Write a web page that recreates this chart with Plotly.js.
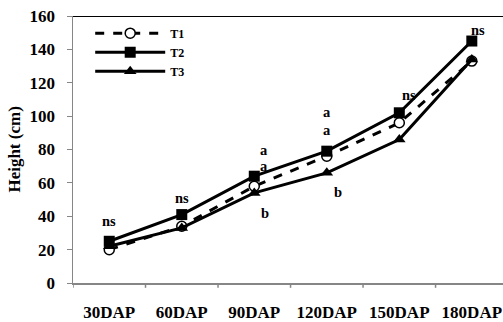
<!DOCTYPE html>
<html><head><meta charset="utf-8">
<script src="https://cdn.plot.ly/plotly-3.0.1.min.js"></script>
<style>html,body{margin:0;padding:0;background:#fff;overflow:hidden}</style>
</head><body><div id="chart" style="width:503px;height:322px"></div>
<script>
const categories = ["30DAP","60DAP","90DAP","120DAP","150DAP","180DAP"];
const t1 = [20, 34, 58, 76, 96, 133];
const t2 = [25, 41, 64, 79, 102, 145];
const t3 = [22, 33, 54, 66, 86, 134];
const letterText = ["ns","ns","a","a","b","a","a","b","ns","ns"];
const letterCat  = [0, 1, 2, 2, 2, 3, 3, 3, 4, 5];
const letterY    = [37, 51, 79.5, 70, 42, 102.5, 91.5, 54.5, 112.5, 151.5];
const letterDx   = [0, 0, 0.14, 0.14, 0.15, 0, 0, 0.15, 0.13, 0.08];

const fontFam = '"Liberation Serif", "Times New Roman", serif';
const idx = categories.map((c,i)=>i);
const traces = [
  {x: idx, y: t1, name: "<b>T1</b>", mode: "lines+markers",
   line: {color: "#000", width: 3, dash: "dash"},
   marker: {symbol: "circle", size: 10, color: "#fff", line: {color: "#000", width: 1.5}}},
  {x: idx, y: t2, name: "<b>T2</b>", mode: "lines+markers",
   line: {color: "#000", width: 3},
   marker: {symbol: "square", size: 11, color: "#000"}},
  {x: idx, y: t3, name: "<b>T3</b>", mode: "lines+markers",
   line: {color: "#000", width: 3},
   marker: {symbol: "triangle-up", size: 11, color: "#000"}}
];
const annotations = letterText.map((t,i)=>({
  x: letterCat[i] + letterDx[i], y: letterY[i], xref: "x", yref: "y",
  text: "<b>"+t+"</b>", showarrow: false,
  font: {family: fontFam, size: 14.5, color: "#000"}
}));
annotations.push({
  xref: "paper", yref: "paper", x: -0.137, y: 0.5, xanchor: "center", yanchor: "middle",
  text: "<b>Height (cm)</b>", textangle: -90, showarrow: false,
  font: {family: fontFam, size: 17, color: "#000"}
});
const layout = {
  width: 503, height: 322,
  margin: {l: 73, r: 0, t: 16, b: 39},
  paper_bgcolor: "#fff", plot_bgcolor: "#fff",
  showlegend: true,
  legend: {x: 0.04, y: 0.99, xanchor: "left", yanchor: "top",
           bgcolor: "rgba(0,0,0,0)", itemwidth: 70,
           font: {family: fontFam, size: 12, color: "#000"}, tracegroupgap: 0},
  xaxis: {
    tickmode: "array", tickvals: idx, ticktext: categories.map(c=>"<b>"+c+"</b>"),
    range: [-0.5, 5.43], showgrid: false, zeroline: false,
    showline: true, linecolor: "#868686", linewidth: 1.5,
    ticks: "", tickfont: {family: fontFam, size: 17, color: "#000"},
    ticklabelstandoff: 13, ticklabeloverflow: "allow"
  },
  yaxis: {
    range: [0, 160], tickvals: [0,20,40,60,80,100,120,140,160],
    ticktext: [0,20,40,60,80,100,120,140,160].map(v=>"<b>"+v+"</b>"),
    showgrid: false, zeroline: false, showline: true, linecolor: "#868686", linewidth: 1.5,
    ticks: "outside", ticklen: 5, tickcolor: "#868686",
    tickfont: {family: fontFam, size: 17, color: "#000"},
    ticklabelstandoff: 8
  },
  shapes: [
    {type: "line", xref: "paper", yref: "y", x0: 0, x1: 1, y0: 160, y1: 160,
     line: {color: "#000", width: 2}},
  ].concat([0,1,2,3,4,5].map(i=>({type:"line", xref:"x", yref:"paper", x0:i-0.5, x1:i-0.5, y0:0, y1:-0.018,
     line:{color:"#868686", width:1.5}}))),
  annotations: annotations
};
Plotly.newPlot("chart", traces, layout, {displayModeBar: false, staticPlot: true});
</script></body></html>
